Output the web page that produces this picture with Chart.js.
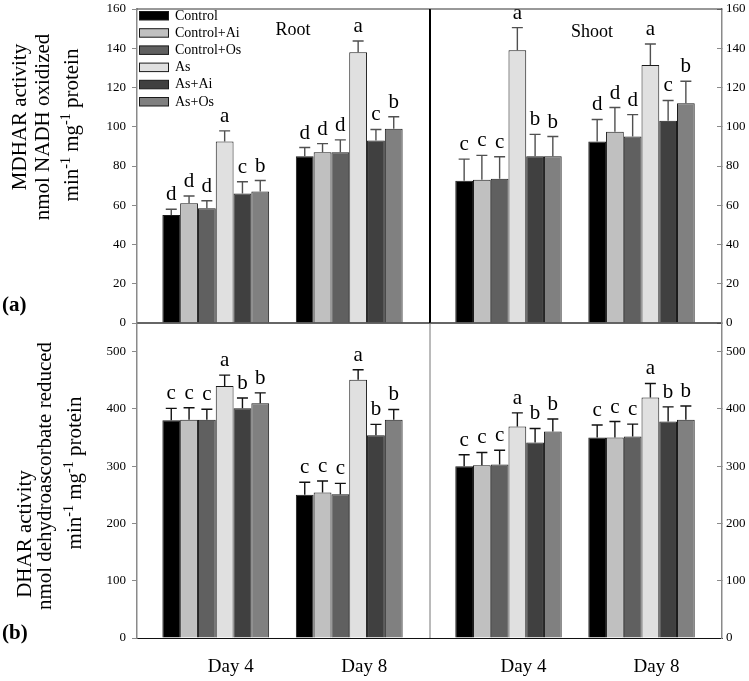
<!DOCTYPE html>
<html>
<head>
<meta charset="utf-8">
<script src="https://cdn.jsdelivr.net/npm/chart.js@4.4.1/dist/chart.umd.min.js"></script>
<style>
  body { margin: 0; background: #fff; }
  #wrap { position: relative; width: 749px; height: 681px; font-family: 'Liberation Serif', 'Times New Roman', serif; color: #000; }
  #wrap canvas { position: absolute; left: 0; top: 0; }
  .ytitle { position: absolute; transform: translate(-50%, -50%) rotate(-90deg); white-space: nowrap; font-size: 21px; line-height: 1; }
  .ytitle sup { font-size: 14px; vertical-align: 8px; line-height: 0; }
  .lbl { position: absolute; white-space: nowrap; line-height: 1; }
</style>
</head>
<body>
<div id="wrap">
  <canvas id="c-tl" width="749" height="681"></canvas>
  <canvas id="c-tr" width="749" height="681"></canvas>
  <canvas id="c-bl" width="749" height="681"></canvas>
  <canvas id="c-br" width="749" height="681"></canvas>

  <div class="ytitle" style="left:19px;top:117px">MDHAR activity</div>
  <div class="ytitle" style="left:42px;top:127px">nmol NADH oxidized</div>
  <div class="ytitle" style="left:71px;top:125px">min<sup>-1</sup> mg<sup>-1</sup> protein</div>

  <div class="ytitle" style="left:24px;top:534px">DHAR activity</div>
  <div class="ytitle" style="left:44px;top:476px">nmol dehydroascorbate reduced</div>
  <div class="ytitle" style="left:74px;top:473px">min<sup>-1</sup> mg<sup>-1</sup> protein</div>

  <div class="lbl" style="left:2px;top:294px;font-size:21px;font-weight:bold">(a)</div>
  <div class="lbl" style="left:2px;top:622px;font-size:21px;font-weight:bold">(b)</div>
  <div class="lbl" style="left:293px;top:20px;font-size:18px;transform:translateX(-50%)">Root</div>
  <div class="lbl" style="left:592px;top:22px;font-size:18px;transform:translateX(-50%)">Shoot</div>
</div>

<script>
const treatments = ['Control', 'Control+Ai', 'Control+Os', 'As', 'As+Ai', 'As+Os'];
const days = ['Day 4', 'Day 8'];
const fills = ['#000000', '#c0c0c0', '#606060', '#e0e0e0', '#404040', '#808080'];

// MDHAR - root
const mdharRootDay4 = [55, 61, 58.5, 92.5, 66, 67];
const mdharRootDay4Err = [3, 3.7, 3.8, 5.4, 6, 5.6];
const mdharRootDay4Letters = ['d', 'd', 'd', 'a', 'c', 'b'];
const mdharRootDay8 = [85, 87, 87, 138, 93, 99];
const mdharRootDay8Err = [4.4, 4.4, 6.3, 5.7, 5.6, 6.1];
const mdharRootDay8Letters = ['d', 'd', 'd', 'a', 'c', 'b'];

// MDHAR - shoot
const mdharShootDay4 = [72.5, 73, 73.5, 139, 85, 85];
const mdharShootDay4Err = [11, 12.4, 11.2, 11.5, 11.1, 10];
const mdharShootDay4Letters = ['c', 'c', 'c', 'a', 'b', 'b'];
const mdharShootDay8 = [92.5, 97.5, 95, 131.5, 103, 112];
const mdharShootDay8Err = [11.2, 12.3, 11.2, 10.7, 10.4, 11.2];
const mdharShootDay8Letters = ['d', 'd', 'd', 'a', 'c', 'b'];

// DHAR - root
const dharRootDay4 = [380, 381, 381, 440, 401, 410];
const dharRootDay4Err = [21, 21, 18.5, 19, 18, 18];
const dharRootDay4Letters = ['c', 'c', 'c', 'a', 'b', 'b'];
const dharRootDay8 = [250, 254, 251, 451, 354, 381];
const dharRootDay8Err = [22, 20, 19, 17.5, 19, 18];
const dharRootDay8Letters = ['c', 'c', 'c', 'a', 'b', 'b'];

// DHAR - shoot
const dharShootDay4 = [300, 301.5, 303, 369.5, 341.5, 360.5];
const dharShootDay4Err = [20, 22.5, 24.7, 23.6, 24.4, 22];
const dharShootDay4Letters = ['c', 'c', 'c', 'a', 'b', 'b'];
const dharShootDay8 = [350, 350, 352, 420, 378, 381];
const dharShootDay8Err = [22, 28, 21.5, 24.4, 25.5, 24.2];
const dharShootDay8Letters = ['c', 'c', 'c', 'a', 'b', 'b'];

const SERIF = "'Liberation Serif', 'Times New Roman', serif";

function makeDatasets(d4, e4, l4, d8, e8, l8) {
    return treatments.map((t, i) => ({
        label: t,
        data: [{ x: 0, y: d4[i] }, { x: 1, y: d8[i] }],
        errors: [e4[i], e8[i]],
        letters: [l4[i], l8[i]],
        backgroundColor: fills[i],
        borderColor: '#1a1a1a',
        borderWidth: 1,
        categoryPercentage: 0.8,
        barPercentage: 1
    }));
}

// error bars (upper half only) + significance letters
const errorBars = {
    id: 'errorBars',
    afterDatasetsDraw(chart, args, opts) {
        const ctx = chart.ctx;
        const yScale = chart.scales.y;
        ctx.save();
        chart.data.datasets.forEach((ds, d) => {
            chart.getDatasetMeta(d).data.forEach((bar, i) => {
                const top = yScale.getPixelForValue(ds.data[i].y + ds.errors[i]);
                ctx.strokeStyle = opts.color;
                ctx.lineWidth = 1.4;
                ctx.beginPath();
                ctx.moveTo(bar.x, bar.y);
                ctx.lineTo(bar.x, top);
                ctx.moveTo(bar.x - 5.5, top);
                ctx.lineTo(bar.x + 5.5, top);
                ctx.stroke();
                ctx.fillStyle = '#000';
                ctx.font = '21px ' + SERIF;
                ctx.textAlign = 'center';
                ctx.textBaseline = 'alphabetic';
                ctx.fillText(ds.letters[i], bar.x, top - 9);
            });
        });
        ctx.restore();
    }
};

// panel border lines not covered by the axes
const frame = {
    id: 'frame',
    afterDraw(chart, args, opts) {
        const { ctx, chartArea: a } = chart;
        (opts.lines || []).forEach(l => {
            ctx.save();
            ctx.strokeStyle = l.color;
            ctx.lineWidth = l.width;
            ctx.beginPath();
            if (l.side === 'top') { ctx.moveTo(a.left, a.top); ctx.lineTo(a.right, a.top); }
            if (l.side === 'bottom') { ctx.moveTo(a.left, a.bottom); ctx.lineTo(a.right, a.bottom); }
            if (l.side === 'right') { ctx.moveTo(a.right, a.top); ctx.lineTo(a.right, a.bottom); }
            ctx.stroke();
            ctx.restore();
        });
    }
};

// legend boxes inside the plot area
const boxLegend = {
    id: 'boxLegend',
    afterDraw(chart, args, opts) {
        if (!opts.show) return;
        const { ctx, chartArea: a } = chart;
        ctx.save();
        chart.data.datasets.forEach((ds, i) => {
            const y = a.top + 2.5 + i * 17.2;
            ctx.fillStyle = ds.backgroundColor;
            ctx.fillRect(a.left + 2.5, y, 29, 8.5);
            ctx.strokeStyle = '#1a1a1a';
            ctx.lineWidth = 1;
            ctx.strokeRect(a.left + 2.5, y, 29, 8.5);
            ctx.fillStyle = '#000';
            ctx.font = '14px ' + SERIF;
            ctx.textAlign = 'left';
            ctx.textBaseline = 'middle';
            ctx.fillText(ds.label, a.left + 38, y + 4.5);
        });
        ctx.restore();
    }
};

function panel(id, datasets, cfg) {
    return new Chart(document.getElementById(id), {
        type: 'bar',
        data: { datasets },
        options: {
            responsive: false,
            animation: false,
            devicePixelRatio: 1,
            layout: { padding: cfg.padding },
            plugins: {
                legend: { display: false },
                tooltip: { enabled: false },
                frame: { lines: cfg.lines },
                errorBars: { color: cfg.errColor },
                boxLegend: { show: !!cfg.legend }
            },
            scales: {
                x: {
                    type: 'linear',
                    offset: false,
                    min: -0.59,
                    max: 1.605,
                    display: cfg.showDays,
                    afterBuildTicks: s => { s.ticks = days.map((d, i) => ({ value: i })); },
                    afterFit: s => { s.height = cfg.showDays ? 43 : 0; s.paddingLeft = 0; s.paddingRight = 0; },
                    grid: { display: false, drawTicks: false },
                    border: { display: true, color: '#111', width: 1 },
                    ticks: {
                        callback: v => days[v],
                        font: { family: SERIF, size: 19 },
                        color: '#000',
                        padding: 18,
                        labelOffset: 15,
                        maxRotation: 0,
                        autoSkip: false
                    }
                },
                y: {
                    position: cfg.right ? 'right' : 'left',
                    min: 0,
                    max: cfg.max,
                    afterBuildTicks: s => { s.ticks = s.ticks.filter(t => t.value % cfg.step === 0); },
                    afterFit: s => { s.width = cfg.right ? 27 : 45; s.paddingTop = 0; s.paddingBottom = 0; },
                    ticks: {
                        stepSize: cfg.step,
                        font: { family: SERIF, size: 13 },
                        color: '#000',
                        padding: cfg.right ? 9 : 6
                    },
                    grid: { drawOnChartArea: false, tickLength: cfg.right ? -5 : 5, color: '#8a8a8a' },
                    border: { color: '#8a8a8a', width: 1.5 }
                }
            }
        },
        plugins: [errorBars, frame, boxLegend]
    });
}

// MDHAR root
panel('c-tl', makeDatasets(mdharRootDay4, mdharRootDay4Err, mdharRootDay4Letters,
                           mdharRootDay8, mdharRootDay8Err, mdharRootDay8Letters), {
    padding: { left: 92, right: 319, top: 9, bottom: 358 },
    max: 160, step: 20, showDays: false, legend: true, errColor: '#505050',
    lines: [
        { side: 'top', color: '#333', width: 1 },
        { side: 'bottom', color: '#333', width: 1.5 },
        { side: 'right', color: '#000', width: 2 }
    ]
});

// MDHAR shoot
panel('c-tr', makeDatasets(mdharShootDay4, mdharShootDay4Err, mdharShootDay4Letters,
                           mdharShootDay8, mdharShootDay8Err, mdharShootDay8Letters), {
    padding: { left: 430, right: 0, top: 9, bottom: 358 },
    max: 160, step: 20, showDays: false, right: true, errColor: '#505050',
    lines: [
        { side: 'top', color: '#333', width: 1 },
        { side: 'bottom', color: '#333', width: 1.5 }
    ]
});

// DHAR root
panel('c-bl', makeDatasets(dharRootDay4, dharRootDay4Err, dharRootDay4Letters,
                           dharRootDay8, dharRootDay8Err, dharRootDay8Letters), {
    padding: { left: 92, right: 319, top: 323, bottom: 0 },
    max: 550, step: 100, showDays: true, errColor: '#111',
    lines: [
        { side: 'right', color: '#777', width: 1 }
    ]
});

// DHAR shoot
panel('c-br', makeDatasets(dharShootDay4, dharShootDay4Err, dharShootDay4Letters,
                           dharShootDay8, dharShootDay8Err, dharShootDay8Letters), {
    padding: { left: 430, right: 0, top: 323, bottom: 0 },
    max: 550, step: 100, showDays: true, right: true, errColor: '#111',
    lines: []
});
</script>
</body>
</html>
